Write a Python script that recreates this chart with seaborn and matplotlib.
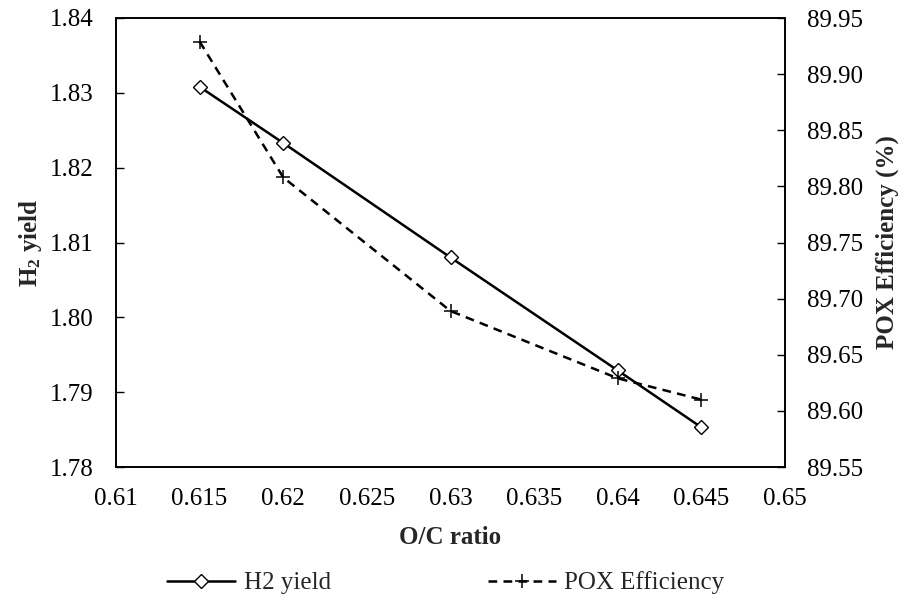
import matplotlib
matplotlib.use("Agg")
import matplotlib.pyplot as plt
import seaborn as sns
import pandas as pd

oc_ratio = [0.615, 0.62, 0.63, 0.64, 0.645]
h2_yield = [1.8308, 1.8233, 1.8080, 1.7929, 1.7853]
pox_eff = [89.929, 89.808, 89.689, 89.629, 89.610]
x_ticks = [0.61, 0.615, 0.62, 0.625, 0.63, 0.635, 0.64, 0.645, 0.65]
x_tick_labels = ["0.61", "0.615", "0.62", "0.625", "0.63", "0.635", "0.64", "0.645", "0.65"]
y1_ticks = [1.78, 1.79, 1.80, 1.81, 1.82, 1.83, 1.84]
y2_ticks = [89.55, 89.60, 89.65, 89.70, 89.75, 89.80, 89.85, 89.90, 89.95]

sns.set_theme(style="white")
plt.rcParams['font.family'] = ['Liberation Serif', 'DejaVu Serif']
plt.rcParams['mathtext.fontset'] = 'custom'
plt.rcParams['mathtext.rm'] = 'Liberation Serif'
plt.rcParams['mathtext.bf'] = 'Liberation Serif:bold'

FS = 18

df = pd.DataFrame({"oc": oc_ratio, "h2": h2_yield, "pox": pox_eff})

fig = plt.figure(figsize=(9.08, 6.12), dpi=100)
ax = fig.add_axes([116/908, 1-467/612, (785-116)/908, (467-18)/612])
ax2 = ax.twinx()

sns.lineplot(data=df, x="oc", y="h2", ax=ax, color="black", linewidth=1.8,
             marker="D", markersize=7.5, markerfacecolor="white",
             markeredgecolor="black", markeredgewidth=1.0, label="H2 yield", legend=False)
sns.lineplot(data=df, x="oc", y="pox", ax=ax2, color="black", linewidth=1.8,
             linestyle=(0, (3.5, 2.5)), marker="+", markersize=9.5,
             markeredgecolor="black", markeredgewidth=1.1,
             label="POX Efficiency", legend=False)

ax.set_xlim(0.61, 0.65)
ax.set_ylim(1.78, 1.84)
ax2.set_ylim(89.55, 89.95)
ax.set_xticks(x_ticks)
ax.set_xticklabels(x_tick_labels)
ax.set_yticks(y1_ticks)
ax.set_yticklabels([f"{v:.2f}" for v in y1_ticks])
ax2.set_yticks(y2_ticks)
ax2.set_yticklabels([f"{v:.2f}" for v in y2_ticks])

for a in (ax, ax2):
    for s in a.spines.values():
        s.set_color("black")
        s.set_linewidth(1.2)
ax.tick_params(axis="x", direction="in", length=6, width=1, labelsize=FS, colors="black", pad=15)
ax.tick_params(axis="y", direction="in", length=6, width=1, labelsize=FS, colors="black", pad=16)
ax2.tick_params(axis="y", direction="in", length=6, width=1, labelsize=FS, colors="black", pad=16)

ax.set_xlabel("O/C ratio", fontsize=FS, fontweight="bold", labelpad=12)
ax.set_ylabel(r"$\mathbf{H_2}$ yield", fontsize=FS, fontweight="bold", labelpad=4)
ax2.set_ylabel("POX Efficiency (%)", fontsize=FS, fontweight="bold", labelpad=9)

h1, l1 = ax.get_legend_handles_labels()
h2, l2 = ax2.get_legend_handles_labels()
fig.legend(h1 + h2, l1 + l2, loc="center", bbox_to_anchor=(446/908, 1-583/612),
           ncol=2, frameon=False, fontsize=FS, handlelength=2.7,
           columnspacing=6.3, handletextpad=0.35)

fig.savefig("out.png", dpi=100, facecolor="white")
